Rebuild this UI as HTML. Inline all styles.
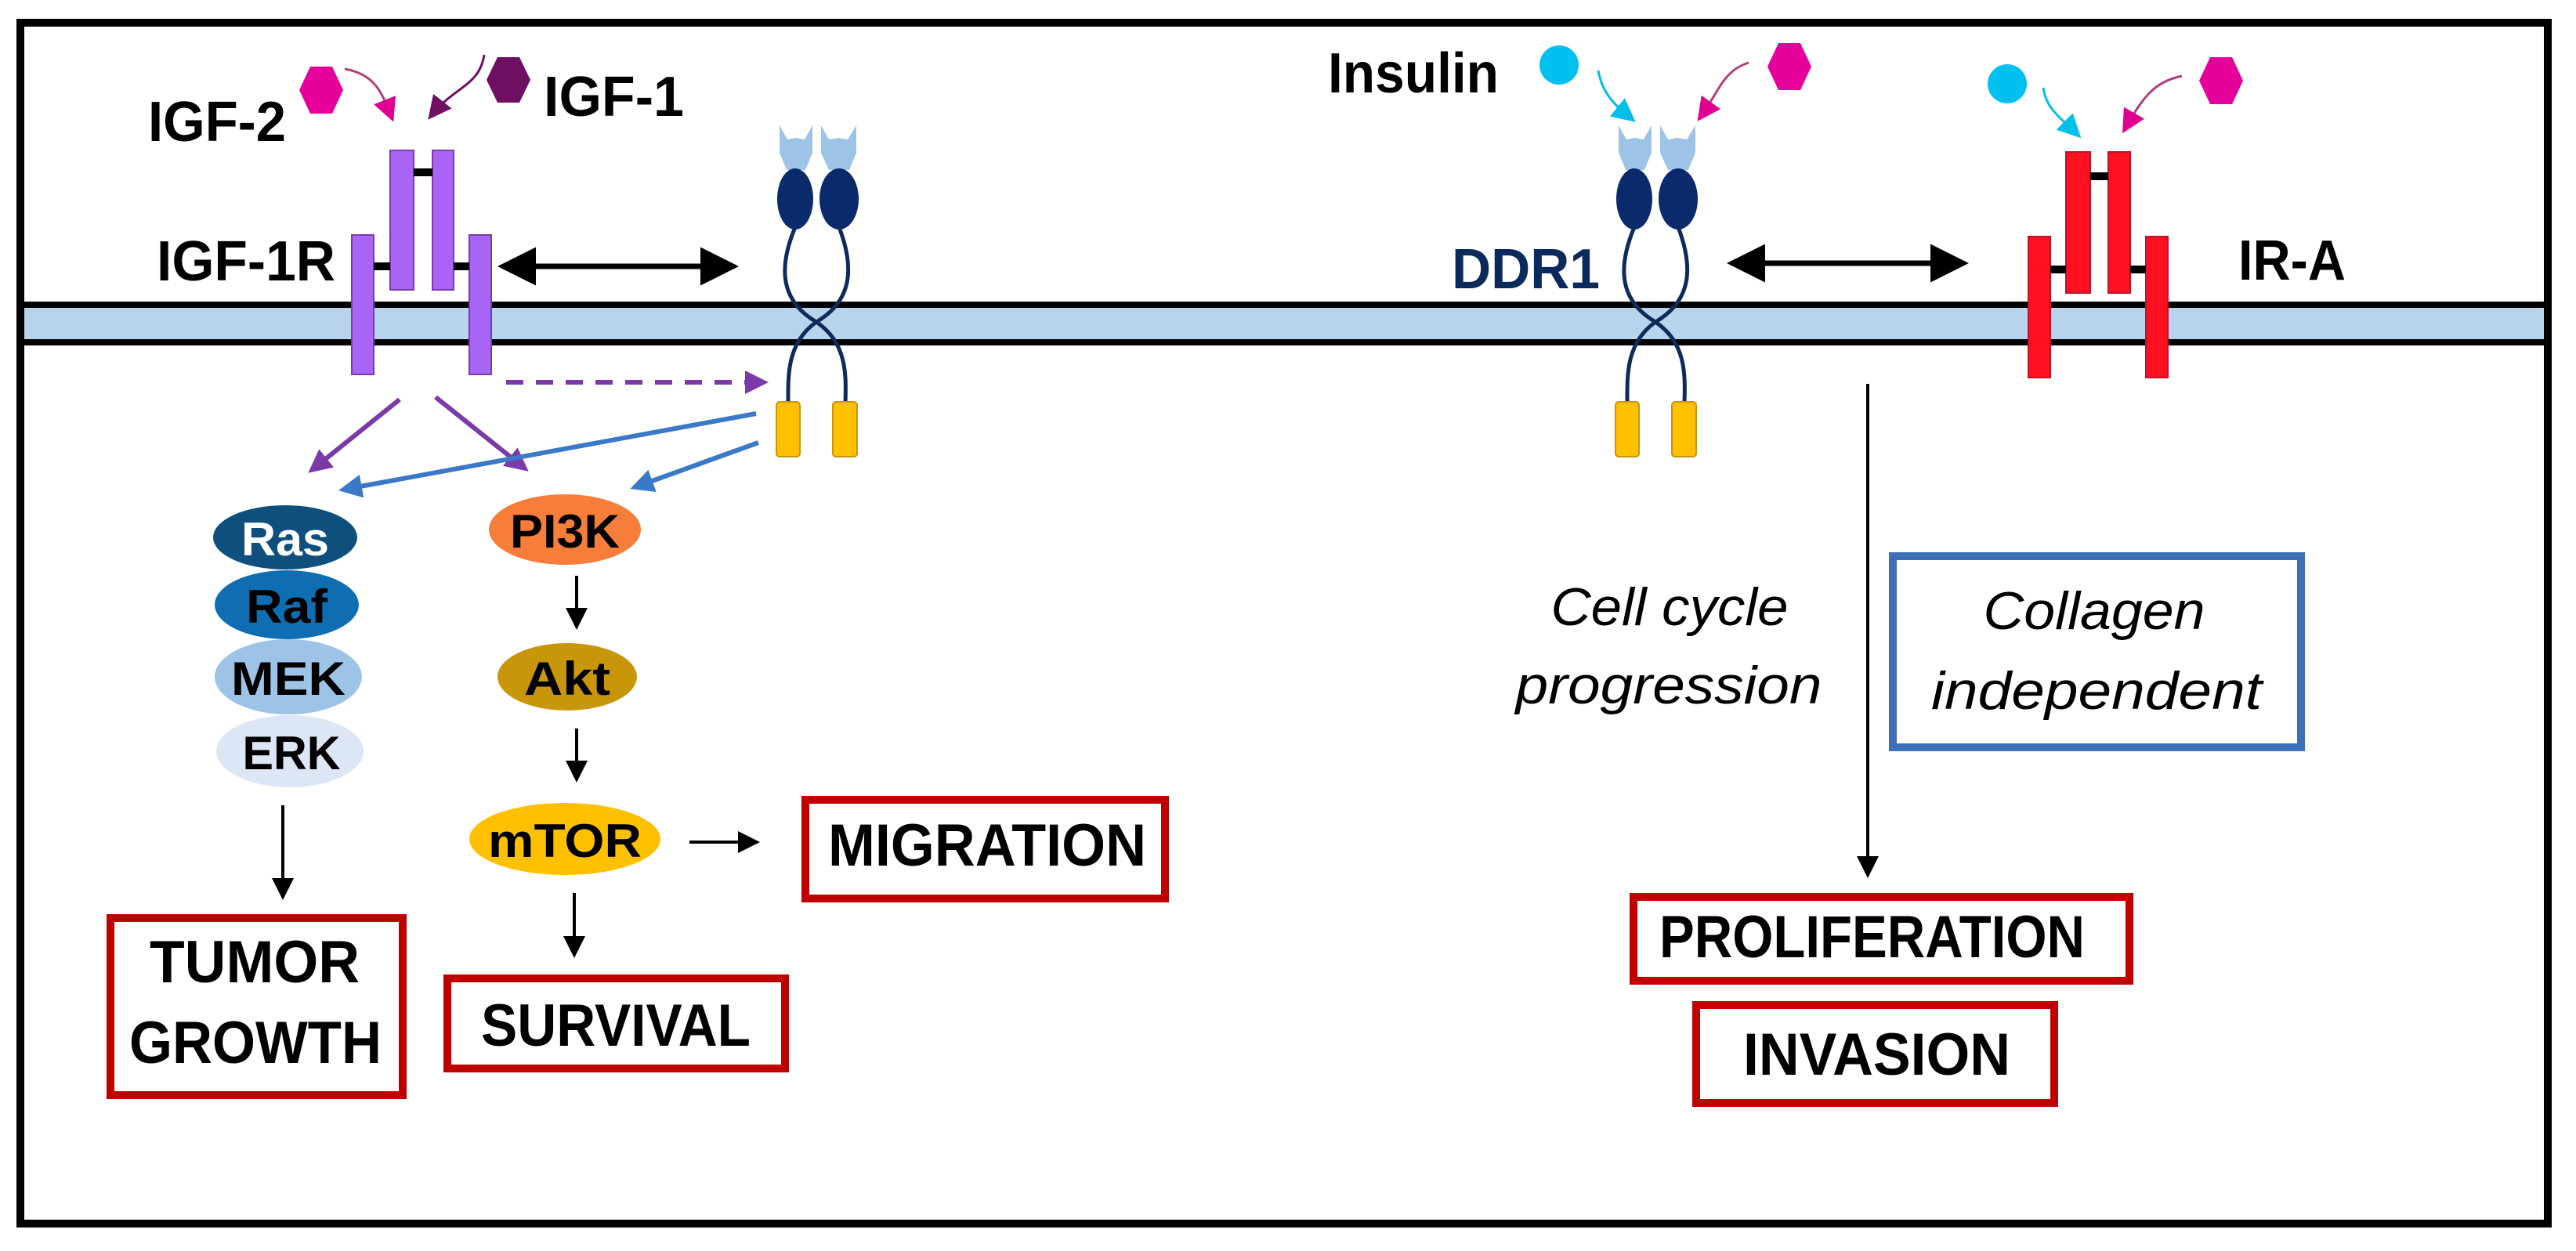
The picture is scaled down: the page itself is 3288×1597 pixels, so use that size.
<!DOCTYPE html>
<html><head><meta charset="utf-8"><style>
html,body{margin:0;padding:0;background:#fff}
svg{display:block}
text{font-family:"Liberation Sans",sans-serif;font-weight:bold;fill:#000}
.it{font-weight:normal;font-style:italic}
</style></head><body>
<svg width="3288" height="1597" viewBox="0 0 3288 1597" xmlns="http://www.w3.org/2000/svg">
<defs>
<marker id="ab" markerWidth="7" markerHeight="7" refX="6" refY="3.5" orient="auto-start-reverse" markerUnits="strokeWidth"><path d="M0,0 L7,3.5 L0,7 z" fill="#000"/></marker>
<marker id="ap" markerWidth="5" markerHeight="5" refX="4" refY="2.5" orient="auto" markerUnits="strokeWidth"><path d="M0,0 L5,2.5 L0,5 z" fill="#7b3aa8"/></marker>
<marker id="abl" markerWidth="5" markerHeight="5" refX="4" refY="2.5" orient="auto" markerUnits="strokeWidth"><path d="M0,0 L5,2.5 L0,5 z" fill="#3a78c8"/></marker>
<marker id="amg" markerWidth="10" markerHeight="10" refX="8" refY="5" orient="auto" markerUnits="strokeWidth"><path d="M0,0 L10,5 L0,10 z" fill="#e0008f"/></marker>
<marker id="adp" markerWidth="10" markerHeight="10" refX="8" refY="5" orient="auto" markerUnits="strokeWidth"><path d="M0,0 L10,5 L0,10 z" fill="#6e0f62"/></marker>
<marker id="acy" markerWidth="10" markerHeight="10" refX="8" refY="5" orient="auto" markerUnits="strokeWidth"><path d="M0,0 L10,5 L0,10 z" fill="#00bfe8"/></marker>
</defs>

<rect x="26" y="29" width="3226" height="1533" fill="none" stroke="#000" stroke-width="10"/>

<rect x="31" y="393" width="3216" height="40" fill="#b8d4ec"/>
<rect x="31" y="385" width="3216" height="8" fill="#000"/>
<rect x="31" y="433" width="3216" height="8" fill="#000"/>

<g fill="#a865f5" stroke="#7b3aa8" stroke-width="2">
<rect x="449" y="300" width="28" height="178"/>
<rect x="498" y="192" width="30" height="178"/>
<rect x="552" y="192" width="27" height="178"/>
<rect x="599" y="300" width="28" height="178"/>
</g>
<rect x="528" y="215" width="24" height="10" fill="#000"/>
<rect x="477" y="335" width="21" height="10" fill="#000"/>
<rect x="579" y="335" width="20" height="10" fill="#000"/>
<text x="200" y="358" font-size="72" textLength="228" lengthAdjust="spacingAndGlyphs">IGF-1R</text>
<text x="189" y="180" font-size="72" textLength="176" lengthAdjust="spacingAndGlyphs">IGF-2</text>
<text x="694" y="148" font-size="72" textLength="179" lengthAdjust="spacingAndGlyphs">IGF-1</text>
<polygon points="396,85 424,85 438,115 424,145 396,145 382,115" fill="#e6009a"/>
<polygon points="635,73 663,73 677,102 663,131 635,131 621,102" fill="#6e0f62"/>
<path d="M440,88 C480,95 488,120 500,150" fill="none" stroke="#b0407a" stroke-width="3" marker-end="url(#amg)"/>
<path d="M618,70 C612,110 580,110 550,148" fill="none" stroke="#6e0f62" stroke-width="3" marker-end="url(#adp)"/>
<line x1="642" y1="340" x2="936" y2="340" stroke="#000" stroke-width="7" marker-start="url(#ab)" marker-end="url(#ab)"/>

<g id="ddr">
<path d="M995,160 L1005,178 L1016,176 L1027,178 L1037,160 L1037,195 L1028,217 L1004,217 L995,195 z" fill="#9dc3e6"/>
<path d="M1048,160 L1058,178 L1070,176 L1082,178 L1093,160 L1093,195 L1084,217 L1058,217 L1048,195 z" fill="#9dc3e6"/>
<ellipse cx="1015" cy="254" rx="23" ry="39" fill="#0a2a6b"/>
<ellipse cx="1071" cy="254" rx="25" ry="39" fill="#0a2a6b"/>
<path d="M1015,290 C992,345 998,385 1042,411 C1082,438 1080,480 1079,515" fill="none" stroke="#0f2a5a" stroke-width="5"/>
<path d="M1071,290 C1092,345 1086,385 1042,411 C1004,438 1006,480 1006,515" fill="none" stroke="#0f2a5a" stroke-width="5"/>
<rect x="991" y="513" width="30" height="70" rx="4" fill="#ffc000" stroke="#c8960a" stroke-width="2"/>
<rect x="1063" y="513" width="31" height="70" rx="4" fill="#ffc000" stroke="#c8960a" stroke-width="2"/>
</g>
<use href="#ddr" transform="translate(1071,0)"/>

<line x1="646" y1="488" x2="975" y2="488" stroke="#7b3aa8" stroke-width="6" stroke-dasharray="22,16" marker-end="url(#ap)"/>
<line x1="510" y1="510" x2="398" y2="600" stroke="#7b3aa8" stroke-width="6" marker-end="url(#ap)"/>
<line x1="556" y1="507" x2="670" y2="598" stroke="#7b3aa8" stroke-width="6" marker-end="url(#ap)"/>
<line x1="965" y1="528" x2="438" y2="625" stroke="#3a78c8" stroke-width="6" marker-end="url(#abl)"/>
<line x1="968" y1="565" x2="810" y2="622" stroke="#3a78c8" stroke-width="6" marker-end="url(#abl)"/>

<ellipse cx="364" cy="686" rx="92" ry="41" fill="#0e4f7e"/>
<ellipse cx="366" cy="772" rx="92" ry="44" fill="#0f6eb2"/>
<ellipse cx="368" cy="864" rx="94" ry="48" fill="#9dc3e6"/>
<ellipse cx="370" cy="959" rx="94" ry="46" fill="#dde6f4"/>
<text x="364" y="709" font-size="60" text-anchor="middle" style="fill:#fff" textLength="112" lengthAdjust="spacingAndGlyphs">Ras</text>
<text x="366" y="795" font-size="60" text-anchor="middle" textLength="104" lengthAdjust="spacingAndGlyphs">Raf</text>
<text x="368" y="887" font-size="60" text-anchor="middle" textLength="146" lengthAdjust="spacingAndGlyphs">MEK</text>
<text x="372" y="982" font-size="60" text-anchor="middle" textLength="125" lengthAdjust="spacingAndGlyphs">ERK</text>

<ellipse cx="721" cy="676" rx="97" ry="45" fill="#f77d3a"/>
<ellipse cx="724" cy="864" rx="89" ry="43" fill="#c8960a"/>
<ellipse cx="721" cy="1071" rx="122" ry="46" fill="#ffc000"/>
<text x="721" y="699" font-size="60" text-anchor="middle" textLength="140" lengthAdjust="spacingAndGlyphs">PI3K</text>
<text x="724" y="887" font-size="60" text-anchor="middle" textLength="110" lengthAdjust="spacingAndGlyphs">Akt</text>
<text x="721" y="1094" font-size="60" text-anchor="middle" textLength="196" lengthAdjust="spacingAndGlyphs">mTOR</text>

<g stroke="#000" stroke-width="4" fill="none">
<line x1="736" y1="735" x2="736" y2="800" marker-end="url(#ab)"/>
<line x1="736" y1="930" x2="736" y2="995" marker-end="url(#ab)"/>
<line x1="733" y1="1140" x2="733" y2="1219" marker-end="url(#ab)"/>
<line x1="880" y1="1075" x2="966" y2="1075" marker-end="url(#ab)"/>
<line x1="361" y1="1028" x2="361" y2="1145" marker-end="url(#ab)"/>
<line x1="2384" y1="490" x2="2384" y2="1117" marker-end="url(#ab)"/>
</g>

<g fill="none" stroke="#c00000" stroke-width="10">
<rect x="141" y="1172" width="373" height="226"/>
<rect x="571" y="1249" width="431" height="115"/>
<rect x="1028" y="1021" width="459" height="126"/>
<rect x="2085" y="1145" width="633" height="107"/>
<rect x="2165" y="1283" width="457" height="125"/>
</g>
<text x="191" y="1254" font-size="76" textLength="268" lengthAdjust="spacingAndGlyphs">TUMOR</text>
<text x="165" y="1357" font-size="76" textLength="322" lengthAdjust="spacingAndGlyphs">GROWTH</text>
<text x="614" y="1335" font-size="76" textLength="344" lengthAdjust="spacingAndGlyphs">SURVIVAL</text>
<text x="1057" y="1105" font-size="76" textLength="406" lengthAdjust="spacingAndGlyphs">MIGRATION</text>
<text x="2118" y="1222" font-size="76" textLength="543" lengthAdjust="spacingAndGlyphs">PROLIFERATION</text>
<text x="2225" y="1372" font-size="76" textLength="341" lengthAdjust="spacingAndGlyphs">INVASION</text>

<text x="1695" y="118" font-size="72" textLength="218" lengthAdjust="spacingAndGlyphs">Insulin</text>
<text x="1853" y="368" font-size="72" style="fill:#0b2a5c" textLength="189" lengthAdjust="spacingAndGlyphs">DDR1</text>
<text x="2857" y="357" font-size="72" textLength="137" lengthAdjust="spacingAndGlyphs">IR-A</text>
<circle cx="1990" cy="83" r="25" fill="#00c0ef"/>
<polygon points="2270,55 2298,55 2312,85 2298,115 2270,115 2256,85" fill="#e6009a"/>
<path d="M2040,90 C2045,120 2062,135 2083,152" fill="none" stroke="#00bfe8" stroke-width="3" marker-end="url(#acy)"/>
<path d="M2232,80 C2200,90 2195,115 2170,150" fill="none" stroke="#b0407a" stroke-width="3" marker-end="url(#amg)"/>
<circle cx="2562" cy="107" r="25" fill="#00c0ef"/>
<polygon points="2821,73 2849,73 2863,103 2849,133 2821,133 2807,103" fill="#e6009a"/>
<path d="M2608,112 C2612,140 2630,150 2652,172" fill="none" stroke="#00bfe8" stroke-width="3" marker-end="url(#acy)"/>
<path d="M2785,97 C2748,105 2735,125 2712,165" fill="none" stroke="#b0407a" stroke-width="3" marker-end="url(#amg)"/>
<line x1="2211" y1="336" x2="2506" y2="336" stroke="#000" stroke-width="7" marker-start="url(#ab)" marker-end="url(#ab)"/>

<g fill="#ff1020" stroke="#c0102a" stroke-width="2">
<rect x="2589" y="302" width="28" height="180"/>
<rect x="2637" y="194" width="31" height="180"/>
<rect x="2691" y="194" width="28" height="180"/>
<rect x="2739" y="302" width="28" height="180"/>
</g>
<rect x="2668" y="220" width="23" height="10" fill="#000"/>
<rect x="2617" y="339" width="20" height="10" fill="#000"/>
<rect x="2719" y="339" width="20" height="10" fill="#000"/>

<text class="it" x="2131" y="798" font-size="68" text-anchor="middle" textLength="303" lengthAdjust="spacingAndGlyphs">Cell cycle</text>
<text class="it" x="2130" y="898" font-size="68" text-anchor="middle" textLength="391" lengthAdjust="spacingAndGlyphs">progression</text>
<rect x="2416" y="710" width="521" height="244" fill="none" stroke="#3d70b8" stroke-width="10"/>
<text class="it" x="2673" y="803" font-size="68" text-anchor="middle" textLength="283" lengthAdjust="spacingAndGlyphs">Collagen</text>
<text class="it" x="2676" y="905" font-size="68" text-anchor="middle" textLength="422" lengthAdjust="spacingAndGlyphs">independent</text>
</svg>
</body></html>
